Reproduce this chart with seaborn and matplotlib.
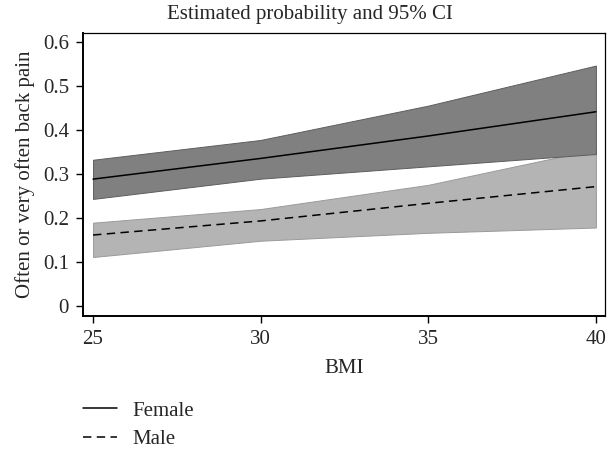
import pandas as pd
import matplotlib
matplotlib.use("Agg")
import matplotlib.pyplot as plt
import seaborn as sns

# values
bmi = [25, 30, 35, 40]
female_mean = [0.288, 0.335, 0.386, 0.441]
female_low = [0.243, 0.289, 0.317, 0.345]
female_high = [0.332, 0.377, 0.455, 0.546]
male_mean = [0.161, 0.193, 0.233, 0.271]
male_low = [0.111, 0.148, 0.166, 0.178]
male_high = [0.189, 0.220, 0.275, 0.356]

x_ticks = [25, 30, 35, 40]
y_ticks = [0, 0.1, 0.2, 0.3, 0.4, 0.5, 0.6]
y_tick_labels = ["0", "0.1", "0.2", "0.3", "0.4", "0.5", "0.6"]


def build_frame():
    df_f = pd.DataFrame({"BMI": bmi, "prob": female_mean, "sex": "Female"})
    df_m = pd.DataFrame({"BMI": bmi, "prob": male_mean, "sex": "Male"})
    return pd.concat([df_f, df_m], ignore_index=True)


def draw_chart(data):
    sns.set_style("ticks")
    plt.rcParams["font.family"] = ["Liberation Serif", "DejaVu Serif"]
    fs = 15

    fig = plt.figure(figsize=(6.08, 4.5), dpi=100)
    ax = fig.add_axes([0.1365, 0.2978, 0.8585, 0.6289])

    # confidence bands (female on top of male)
    ax.fill_between(bmi, male_low, male_high, color="#b4b4b4",
                    edgecolor="#9a9a9a", linewidth=0.7, zorder=1)
    ax.fill_between(bmi, female_low, female_high, color="#808080",
                    edgecolor="#5e5e5e", linewidth=0.7, zorder=2)

    sns.lineplot(data=data, x="BMI", y="prob", style="sex",
                 dashes={"Female": "", "Male": (5.5, 3.5)},
                 color="black", linewidth=1.1, ax=ax, legend=False, zorder=3)

    ax.set_xlim(24.7, 40.27)
    ax.set_ylim(-0.023, 0.62)
    ax.set_xticks(x_ticks)
    ax.set_xticklabels([str(t) for t in x_ticks], fontsize=fs)
    ax.set_yticks(y_ticks)
    ax.set_yticklabels(y_tick_labels, fontsize=fs)
    ax.tick_params(direction="out", length=5, width=1, color="black", pad=5)

    for side in ["left", "bottom"]:
        ax.spines[side].set_linewidth(1.4)
    for side in ["top", "right"]:
        ax.spines[side].set_linewidth(0.9)
    for sp in ax.spines.values():
        sp.set_color("black")
        sp.set_visible(True)

    ax.set_xlabel("BMI", fontsize=fs, labelpad=7)
    ax.set_ylabel("Often or very often back pain", fontsize=fs, labelpad=6)
    fig.text(310 / 608, 1 - 14 / 450, "Estimated probability and 95% CI",
             ha="center", va="center", fontsize=fs)

    lines = ax.get_lines()
    fig.legend(lines[:2], ["Female", "Male"], loc="upper left",
               bbox_to_anchor=(83 / 608, 1 - 401 / 450), frameon=False, fontsize=fs,
               handlelength=1.63, handletextpad=0.72, labelspacing=0.42,
               borderaxespad=0, borderpad=0)

    fig.savefig("out.png", dpi=100)


if __name__ == "__main__":
    chart_data = build_frame()
    draw_chart(chart_data)
